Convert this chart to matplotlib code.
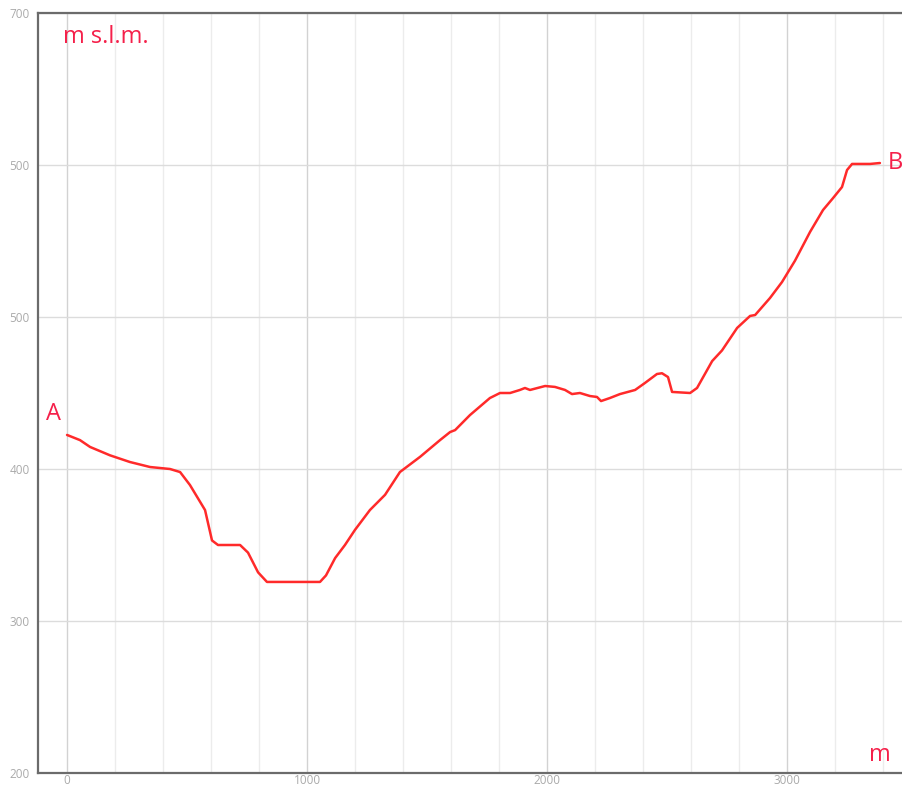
import matplotlib
matplotlib.use("Agg")
import matplotlib.pyplot as plt
from matplotlib.ticker import MultipleLocator

plt.rcParams['font.family'] = ['Open Sans', 'DejaVu Sans']

# distance (m) and elevation (m s.l.m.)
distance = [0, 54, 96, 179, 262, 346, 429, 471, 512, 575, 604, 629, 721, 754, 796, 833,
            1054, 1079, 1117, 1158, 1200, 1262, 1325, 1387, 1471, 1554, 1596, 1617, 1679,
            1762, 1804, 1846, 1887, 1908, 1929, 1992, 2033, 2075, 2104, 2137, 2179, 2208,
            2225, 2262, 2304, 2367, 2408, 2458, 2479, 2504, 2521, 2596, 2625, 2688, 2729,
            2792, 2846, 2867, 2929, 2979, 3033, 3096, 3150, 3192, 3229, 3250, 3271, 3304,
            3346, 3387]
elevation = [422.4, 419, 414.5, 409, 404.6, 401.3, 400, 398, 389.5, 373, 353, 350, 350, 345,
             332, 325.7, 325.7, 330, 341.4, 350, 360, 373, 383, 398, 408, 419, 424.3, 425.6,
             435.5, 446.7, 450, 450, 452, 453.3, 452, 454.6, 454, 452, 449.3, 450, 448, 447.4,
             444.7, 446.7, 449.3, 452, 456.6, 462.5, 463, 460.5, 450.7, 450, 453.3, 471, 478,
             492.8, 500.7, 501.3, 512.5, 523, 537, 556, 570.4, 578.3, 585.5, 596.7, 600.7,
             600.7, 600.7, 601.3]

y_ticks = [200, 300, 400, 500, 600, 700]
y_tick_labels = ['200', '300', '400', '500', '500', '700']
x_ticks = [0, 1000, 2000, 3000]
x_tick_labels = ['0', '1000', '2000', '3000']

red_line = '#ff2a2a'
red_text = '#f5204a'

fig = plt.figure(figsize=(9.03, 7.89), dpi=100)
ax = fig.add_axes([38/903, 16/789, 870/903, 760/789])

ax.plot(distance, elevation, color=red_line, lw=1.8, solid_capstyle='round',
        solid_joinstyle='round', zorder=3)

ax.set_xlim(-121, 3504)
ax.set_ylim(200, 700)

ax.set_yticks(y_ticks)
ax.set_yticklabels(y_tick_labels)
ax.set_xticks(x_ticks)
ax.set_xticklabels(x_tick_labels)
ax.xaxis.set_minor_locator(MultipleLocator(200))

ax.tick_params(axis='both', which='both', length=0, labelsize=8.5, labelcolor='#aaaaaa')
ax.tick_params(axis='y', pad=6)
ax.tick_params(axis='x', pad=1)

ax.grid(True, which='major', axis='x', color='#d2d2d2', lw=1.0, zorder=0)
ax.grid(True, which='minor', axis='x', color='#ececec', lw=1.0, zorder=0)
ax.grid(True, which='major', axis='y', color='#dcdcdc', lw=1.0, zorder=0)

for s in ax.spines.values():
    s.set_color('#6b6b6b')
    s.set_linewidth(1.6)

ax.text(-55, 436, 'A', color=red_text, fontsize=17, ha='center', va='center')
ax.text(3450, 601.3, 'B', color=red_text, fontsize=17, ha='center', va='center')
ax.text(-15, 684, 'm s.l.m.', color=red_text, fontsize=17, ha='left', va='center')
ax.text(3385, 212, 'm', color=red_text, fontsize=17, ha='center', va='center')

fig.savefig('out.png', dpi=100)
